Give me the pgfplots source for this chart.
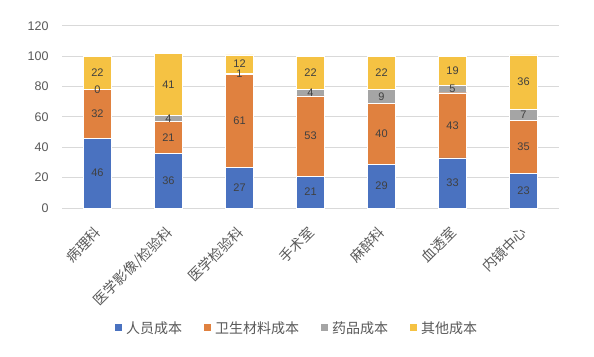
\documentclass[border=0pt]{standalone}
\usepackage{pgfplots}
\pgfplotsset{compat=1.18}
\usepackage{pgfplotstable}
\usepackage{fontspec}
\setmainfont{Liberation Sans}
\newfontfamily\cjk{Noto Sans CJK SC}
\definecolor{cA}{HTML}{4A72C0}
\definecolor{cB}{HTML}{E0813F}
\definecolor{cC}{HTML}{A5A5A5}
\definecolor{cD}{HTML}{F5C243}
\definecolor{tickc}{HTML}{595959}
\definecolor{labc}{HTML}{404040}
\definecolor{gridc}{HTML}{D9D9D9}
% c = bar value; cy = position used for the label layer (0 shown as a tiny height)
\pgfplotstableread{
x a b c d cy
0 46 32 0 22 0.001
1 36 21 4 41 4
2 27 61 1 12 1
3 21 53 4 22 4
4 29 40 9 22 9
5 33 43 5 19 5
6 23 35 7 36 7
}\data
\pgfplotsset{
  midlabel/.style={
    nodes near coords,
    point meta=explicit,
    every node near coord/.append style={anchor=center,
      font=\fontsize{11}{11}\selectfont, text=labc},
  },
  base/.style={
    at={(62pt,148pt)}, anchor=south west,
    scale only axis, width=497pt, height=182pt,
    ybar stacked, bar width=28pt,
    xmin=-0.5, xmax=6.5, ymin=0, ymax=120,
    clip=false,
    /pgf/number format/assume math mode=true,
  },
}
\begin{document}
\begin{tikzpicture}[x=1pt,y=1pt]
\begin{axis}[
  base,
  xtick={0,...,6},
  xticklabels={病理科,医学影像/检验科,医学检验科,手术室,麻醉科,血透室,内镜中心},
  ytick={0,20,...,120},
  major tick length=0pt,
  axis line style={draw=none},
  ymajorgrids, xmajorgrids=false, grid style={draw=gridc, line width=1pt},
  yticklabel style={font=\fontsize{12.5}{12.5}\selectfont, text=tickc, anchor=east, xshift=-10pt},
  xticklabel style={font=\cjk\fontsize{14}{14}\selectfont, text=tickc, anchor=north east, xshift=-4pt, yshift=-12pt, rotate=45},
  legend style={at={(0.473,-0.659)}, anchor=center, legend columns=4, draw=none,
    font=\cjk\fontsize{14}{14}\selectfont, text=tickc,
    /tikz/every even column/.append style={column sep=20pt},
    /tikz/every odd column/.append style={column sep=2pt}},
  legend image code/.code={\path[#1, draw=none] (0pt,-3.5pt) rectangle (7pt,3.5pt);},
]
\addplot[fill=cA, draw=white, line width=0.4pt] table[x=x, y=a] {\data};
\addplot[fill=cB, draw=white, line width=0.4pt] table[x=x, y=b] {\data};
\addplot[fill=cC, draw=white, line width=0.4pt] table[x=x, y=c] {\data};
\addplot[fill=cD, draw=white, line width=0.4pt] table[x=x, y=d] {\data};
\legend{人员成本,卫生材料成本,药品成本,其他成本}
\end{axis}
\begin{axis}[base, hide axis]
\addplot[draw=none, fill=none, midlabel] table[x=x, y=a, meta=a] {\data};
\addplot[draw=none, fill=none, midlabel] table[x=x, y=b, meta=b] {\data};
\addplot[draw=none, fill=none, midlabel] table[x=x, y=cy, meta=c] {\data};
\addplot[draw=none, fill=none, midlabel] table[x=x, y=d, meta=d] {\data};
\end{axis}
\pgfresetboundingbox
\path (0,0) rectangle (594pt,356pt);
\end{tikzpicture}
\end{document}
